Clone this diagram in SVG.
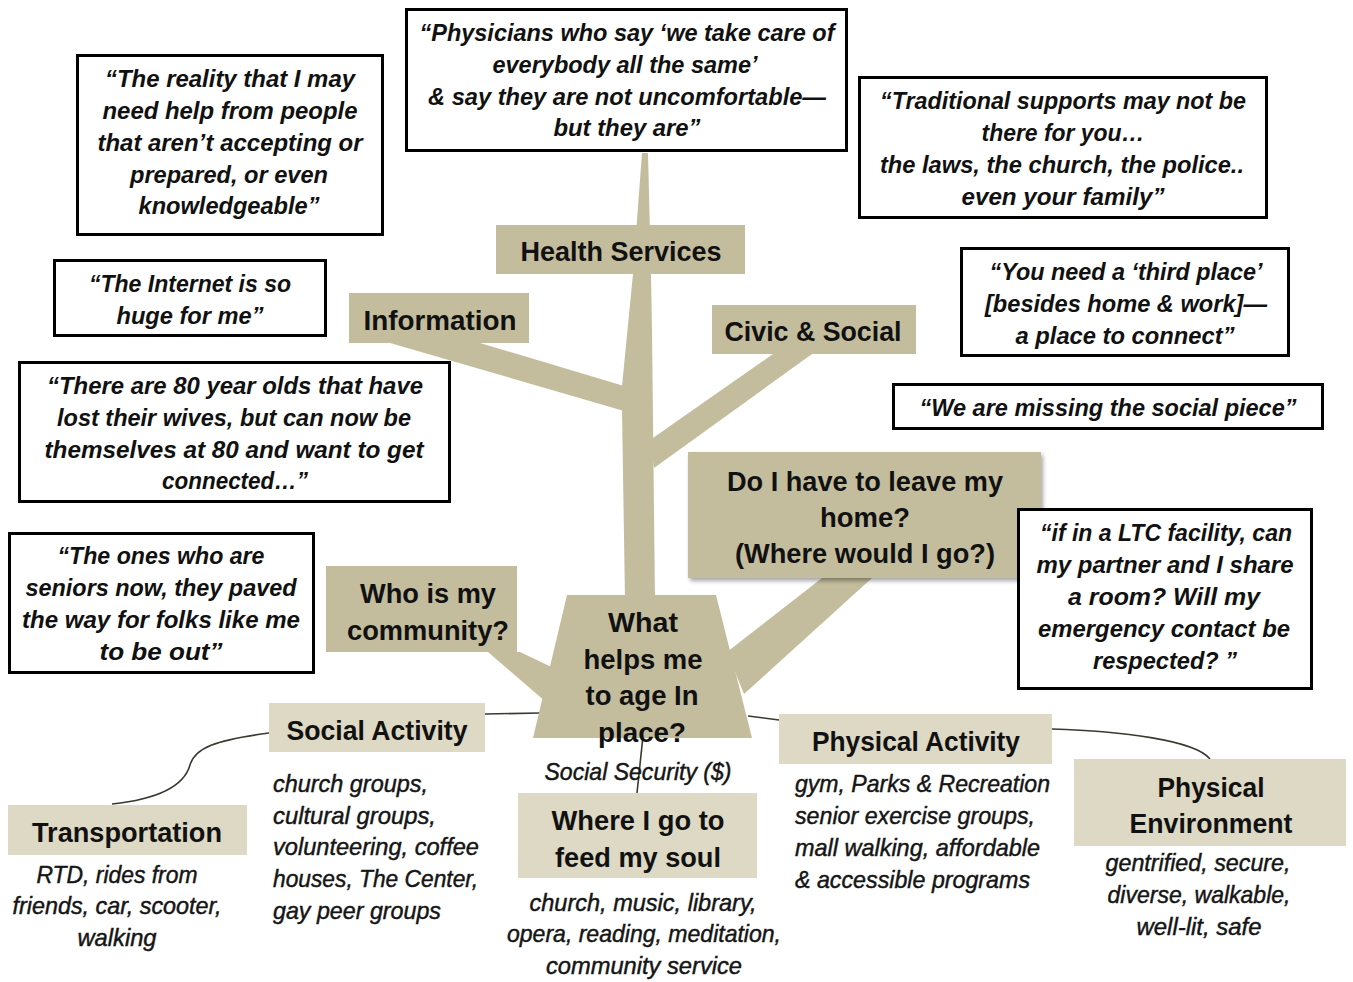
<svg xmlns="http://www.w3.org/2000/svg" width="1353" height="982" viewBox="0 0 1353 982">
  <defs>
    <style>
      .quote-box { fill: #ffffff; stroke: #000000; stroke-width: 3; }
      .tree-box { fill: #c4bd9d; }
      .leaf-box { fill: #ddd9c4; }
      .limb { fill: #c4bd9d; }
      .link { fill: none; stroke: #3a3a30; stroke-width: 1.6; }
      .quote { font-family: "Liberation Sans", Arial, sans-serif; font-weight: bold; font-style: italic; font-size: 24px; fill: #111111; text-anchor: middle; }
      .label { font-family: "Liberation Sans", Arial, sans-serif; font-weight: bold; font-size: 28px; fill: #111111; text-anchor: middle; }
      .item { font-family: "Liberation Sans", Arial, sans-serif; font-style: italic; font-size: 24px; fill: #151515; stroke: #151515; stroke-width: 0.45; }
      .mid { text-anchor: middle; }
    </style>
    <filter id="soft-shadow" x="-5%" y="-5%" width="112%" height="120%">
      <feDropShadow dx="2" dy="3" stdDeviation="2" flood-color="#000000" flood-opacity="0.35"/>
    </filter>
  </defs>

  <rect width="1353" height="982" fill="#ffffff"/>

  <!-- trunk and branches of the tree -->
  <g id="tree-limbs">
    <polygon class="limb" points="642,153 648,153 651,274 652,330 655,600 625,600 622,410 622,386 633,274"/>
    <polygon class="limb" points="390,343 480,343 624,386 624,411"/>
    <polygon class="limb" points="773,354 812,354 654,468 650,440"/>
    <polygon class="limb" points="488,652 520,652 562,672 546,702"/>
    <polygon class="limb" points="822,578 872,578 744,694 727,652"/>
  </g>

  <!-- thin connectors between the root and the ground-level themes -->
  <g id="connectors">
    <path class="link" d="M540,713 L485,714"/>
    <path class="link" d="M748,716 L779,720"/>
    <path class="link" d="M643,736 L637,793"/>
    <path class="link" d="M269,733 C215,740 195,748 190,765 C183,790 150,800 112,804"/>
    <path class="link" d="M1052,729 C1120,731 1195,740 1210,759"/>
  </g>

  <!-- quote boxes -->
  <g id="quote-reality">
    <rect class="quote-box" x="77.5" y="55.5" width="305" height="179"/>
    <text class="quote" x="230" y="87" textLength="250" lengthAdjust="spacingAndGlyphs">“The reality that I may</text>
    <text class="quote" x="230" y="119" textLength="255" lengthAdjust="spacingAndGlyphs">need help from people</text>
    <text class="quote" x="230" y="151" textLength="265" lengthAdjust="spacingAndGlyphs">that aren’t accepting or</text>
    <text class="quote" x="229" y="183" textLength="198" lengthAdjust="spacingAndGlyphs">prepared, or even</text>
    <text class="quote" x="229" y="214" textLength="181" lengthAdjust="spacingAndGlyphs">knowledgeable”</text>
  </g>

  <g id="quote-internet">
    <rect class="quote-box" x="54.5" y="260.5" width="271" height="75"/>
    <text class="quote" x="190" y="292" textLength="202" lengthAdjust="spacingAndGlyphs">“The Internet is so</text>
    <text class="quote" x="190" y="324" textLength="147" lengthAdjust="spacingAndGlyphs">huge for me”</text>
  </g>

  <g id="quote-physicians">
    <rect class="quote-box" x="406.5" y="9.5" width="440" height="141"/>
    <text class="quote" x="627" y="41" textLength="415" lengthAdjust="spacingAndGlyphs">“Physicians who say ‘we take care of</text>
    <text class="quote" x="625" y="73" textLength="265" lengthAdjust="spacingAndGlyphs">everybody all the same’</text>
    <text class="quote" x="627" y="105" textLength="398" lengthAdjust="spacingAndGlyphs">&amp; say they are not uncomfortable—</text>
    <text class="quote" x="627" y="136" textLength="147" lengthAdjust="spacingAndGlyphs">but they are”</text>
  </g>

  <g id="quote-traditional">
    <rect class="quote-box" x="859.5" y="77.5" width="407" height="140"/>
    <text class="quote" x="1063" y="109" textLength="366" lengthAdjust="spacingAndGlyphs">“Traditional supports may not be</text>
    <text class="quote" x="1063" y="141" textLength="163" lengthAdjust="spacingAndGlyphs">there for you…</text>
    <text class="quote" x="1062" y="173" textLength="364" lengthAdjust="spacingAndGlyphs">the laws, the church, the police..</text>
    <text class="quote" x="1063" y="205" textLength="203" lengthAdjust="spacingAndGlyphs">even  your family”</text>
  </g>

  <g id="quote-third-place">
    <rect class="quote-box" x="961.5" y="248.5" width="327" height="107"/>
    <text class="quote" x="1126" y="280" textLength="273" lengthAdjust="spacingAndGlyphs">“You need a ‘third place’</text>
    <text class="quote" x="1126" y="312" textLength="282" lengthAdjust="spacingAndGlyphs">[besides home &amp; work]—</text>
    <text class="quote" x="1125" y="344" textLength="219" lengthAdjust="spacingAndGlyphs">a place to connect”</text>
  </g>

  <g id="quote-social-piece">
    <rect class="quote-box" x="893.5" y="384.5" width="429" height="44"/>
    <text class="quote" x="1108" y="416" textLength="377" lengthAdjust="spacingAndGlyphs">“We are missing the social piece”</text>
  </g>

  <g id="quote-eighty">
    <rect class="quote-box" x="19.5" y="362.5" width="430" height="139"/>
    <text class="quote" x="235" y="394" textLength="376" lengthAdjust="spacingAndGlyphs">“There are 80 year olds that have</text>
    <text class="quote" x="234" y="426" textLength="354" lengthAdjust="spacingAndGlyphs">lost their wives, but can now be</text>
    <text class="quote" x="234" y="458" textLength="379" lengthAdjust="spacingAndGlyphs">themselves at 80 and want to get</text>
    <text class="quote" x="235" y="489" textLength="146" lengthAdjust="spacingAndGlyphs">connected…”</text>
  </g>

  <g id="quote-paved-way">
    <rect class="quote-box" x="9.5" y="533.5" width="304" height="139"/>
    <text class="quote" x="161" y="564" textLength="207" lengthAdjust="spacingAndGlyphs">“The ones who are</text>
    <text class="quote" x="161" y="596" textLength="271" lengthAdjust="spacingAndGlyphs">seniors now, they paved</text>
    <text class="quote" x="161" y="628" textLength="278" lengthAdjust="spacingAndGlyphs">the way for folks like me</text>
    <text class="quote" x="161" y="660" textLength="123" lengthAdjust="spacingAndGlyphs">to be out”</text>
  </g>

  <!-- branch topics -->
  <g id="node-health-services">
    <rect class="tree-box" x="496" y="225" width="249" height="49"/>
    <text class="label" x="621" y="261" textLength="201" lengthAdjust="spacingAndGlyphs">Health Services</text>
  </g>

  <g id="node-information">
    <rect class="tree-box" x="349" y="293" width="180" height="50"/>
    <text class="label" x="440" y="330" textLength="153" lengthAdjust="spacingAndGlyphs">Information</text>
  </g>

  <g id="node-civic-social">
    <rect class="tree-box" x="712" y="305" width="204" height="49"/>
    <text class="label" x="813" y="341" textLength="177" lengthAdjust="spacingAndGlyphs">Civic &amp; Social</text>
  </g>

  <g id="node-leave-home">
    <rect class="tree-box" x="688" y="452" width="353" height="126" filter="url(#soft-shadow)"/>
    <text class="label" x="865" y="491" textLength="276" lengthAdjust="spacingAndGlyphs">Do I have to leave my</text>
    <text class="label" x="865" y="527" textLength="90" lengthAdjust="spacingAndGlyphs">home?</text>
    <text class="label" x="865" y="563" textLength="260" lengthAdjust="spacingAndGlyphs">(Where would I go?)</text>
  </g>

  <!-- this quote sits over the corner of the "leave my home" box -->
  <g id="quote-ltc">
    <rect class="quote-box" x="1018.5" y="509.5" width="293" height="179"/>
    <text class="quote" x="1166" y="541" textLength="252" lengthAdjust="spacingAndGlyphs">“if in a LTC facility, can</text>
    <text class="quote" x="1165" y="573" textLength="257" lengthAdjust="spacingAndGlyphs">my partner and I share</text>
    <text class="quote" x="1164" y="605" textLength="192" lengthAdjust="spacingAndGlyphs">a room?  Will my</text>
    <text class="quote" x="1164" y="637" textLength="252" lengthAdjust="spacingAndGlyphs">emergency contact be</text>
    <text class="quote" x="1165" y="669" textLength="144" lengthAdjust="spacingAndGlyphs">respected? ”</text>
  </g>

  <g id="node-community">
    <rect class="tree-box" x="326" y="566" width="191" height="86"/>
    <text class="label" x="428" y="603" textLength="136" lengthAdjust="spacingAndGlyphs">Who is my</text>
    <text class="label" x="428" y="640" textLength="162" lengthAdjust="spacingAndGlyphs">community?</text>
  </g>

  <g id="node-age-in-place">
    <polygon class="tree-box" points="567,595 716,595 752,738 533,738"/>
    <text class="label" x="643" y="632" textLength="70" lengthAdjust="spacingAndGlyphs">What</text>
    <text class="label" x="643" y="669" textLength="119" lengthAdjust="spacingAndGlyphs">helps me</text>
    <text class="label" x="642" y="705" textLength="113" lengthAdjust="spacingAndGlyphs">to age In</text>
    <text class="label" x="642" y="742" textLength="88" lengthAdjust="spacingAndGlyphs">place?</text>
  </g>

  <!-- ground-level themes -->
  <g id="node-social-security">
    <text class="item mid" x="638" y="780" textLength="187" lengthAdjust="spacingAndGlyphs">Social Security ($)</text>
  </g>

  <g id="node-social-activity">
    <rect class="leaf-box" x="269" y="703" width="216" height="49"/>
    <text class="label" x="377" y="740" textLength="181" lengthAdjust="spacingAndGlyphs">Social Activity</text>
    <text class="item" x="273" y="792" textLength="155" lengthAdjust="spacingAndGlyphs">church groups,</text>
    <text class="item" x="273" y="824" textLength="163" lengthAdjust="spacingAndGlyphs">cultural groups,</text>
    <text class="item" x="273" y="855" textLength="206" lengthAdjust="spacingAndGlyphs">volunteering, coffee</text>
    <text class="item" x="273" y="887" textLength="205" lengthAdjust="spacingAndGlyphs">houses, The Center,</text>
    <text class="item" x="273" y="919" textLength="168" lengthAdjust="spacingAndGlyphs">gay peer groups</text>
  </g>

  <g id="node-transportation">
    <rect class="leaf-box" x="8" y="805" width="239" height="50"/>
    <text class="label" x="127" y="842" textLength="190" lengthAdjust="spacingAndGlyphs">Transportation</text>
    <text class="item mid" x="117" y="883" textLength="161" lengthAdjust="spacingAndGlyphs">RTD, rides from</text>
    <text class="item mid" x="117" y="914" textLength="209" lengthAdjust="spacingAndGlyphs">friends, car, scooter,</text>
    <text class="item mid" x="117" y="946" textLength="79" lengthAdjust="spacingAndGlyphs">walking</text>
  </g>

  <g id="node-feed-soul">
    <rect class="leaf-box" x="518" y="793" width="239" height="85"/>
    <text class="label" x="638" y="830" textLength="173" lengthAdjust="spacingAndGlyphs">Where I go to</text>
    <text class="label" x="638" y="867" textLength="166" lengthAdjust="spacingAndGlyphs">feed my soul</text>
    <text class="item mid" x="643" y="911" textLength="227" lengthAdjust="spacingAndGlyphs">church, music, library,</text>
    <text class="item mid" x="644" y="942" textLength="274" lengthAdjust="spacingAndGlyphs">opera, reading, meditation,</text>
    <text class="item mid" x="644" y="974" textLength="196" lengthAdjust="spacingAndGlyphs">community service</text>
  </g>

  <g id="node-physical-activity">
    <rect class="leaf-box" x="779" y="714" width="273" height="50"/>
    <text class="label" x="916" y="751" textLength="208" lengthAdjust="spacingAndGlyphs">Physical Activity</text>
    <text class="item" x="795" y="792" textLength="255" lengthAdjust="spacingAndGlyphs">gym, Parks &amp; Recreation</text>
    <text class="item" x="795" y="824" textLength="240" lengthAdjust="spacingAndGlyphs">senior exercise groups,</text>
    <text class="item" x="795" y="856" textLength="245" lengthAdjust="spacingAndGlyphs">mall walking, affordable</text>
    <text class="item" x="795" y="888" textLength="235" lengthAdjust="spacingAndGlyphs">&amp; accessible programs</text>
  </g>

  <g id="node-physical-environment">
    <rect class="leaf-box" x="1074" y="759" width="272" height="87"/>
    <text class="label" x="1211" y="797" textLength="107" lengthAdjust="spacingAndGlyphs">Physical</text>
    <text class="label" x="1211" y="833" textLength="163" lengthAdjust="spacingAndGlyphs">Environment</text>
    <text class="item mid" x="1198" y="871" textLength="185" lengthAdjust="spacingAndGlyphs">gentrified, secure,</text>
    <text class="item mid" x="1199" y="903" textLength="183" lengthAdjust="spacingAndGlyphs">diverse, walkable,</text>
    <text class="item mid" x="1199" y="935" textLength="125" lengthAdjust="spacingAndGlyphs">well-lit, safe</text>
  </g>
</svg>
